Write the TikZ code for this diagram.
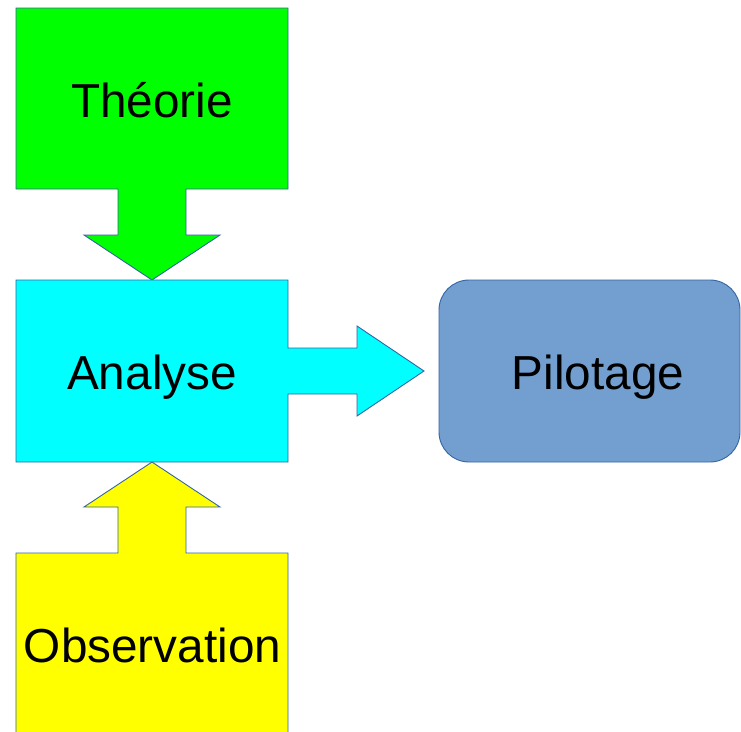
\documentclass[tikz,border=0pt]{standalone}
\usepackage{fontspec}
\setmainfont{Liberation Sans}
\usepackage{xcolor}
\definecolor{edgeblue}{HTML}{3465A4}
\definecolor{pilotblue}{HTML}{729FCF}
\definecolor{theogreen}{HTML}{00FF00}
\definecolor{anacyan}{HTML}{00FFFF}
\definecolor{obsyellow}{HTML}{FFFF00}
\tikzset{
  block/.style = {draw = edgeblue, line width = 0.9pt, line join = miter},
  lbl/.style = {anchor = base, inner sep = 0pt, font = \fontsize{47.7}{50}\selectfont}
}

\begin{document}
\begin{tikzpicture}[x = 1pt, y = -1pt]
	\clip (0,0) rectangle (741,731);
	\fill[white] (0,0) rectangle (741,731);
	% theorie with down arrow
	\draw[block, fill = theogreen] (16,8) -- (288,8) -- (288,189) -- (186,189) -- (186,235) -- (220,235) -- (152,280) -- (84,235) -- (118,235) -- (118,189) -- (16,189) -- cycle;
	% analyse with right arrow
	\draw[block, fill = anacyan] (16,280) -- (288,280) -- (288,348) -- (357,348) -- (357,326) -- (424,371) -- (357,416) -- (357,394) -- (288,394) -- (288,462) -- (16,462) -- cycle;
	% observation with up arrow
	\draw[block, fill = obsyellow] (16,760) -- (16,553) -- (118,553) -- (118,507) -- (84,507) -- (152,462) -- (220,507) -- (186,507) -- (186,553) -- (288,553) -- (288,760);
	% pilotage
	\draw[block, fill = pilotblue, rounded corners = 30pt] (439,280) rectangle (740,462);
	\node[lbl] (theorie) at (152,117) {Théorie};
	\node[lbl] (analyse) at (152,389) {Analyse};
	\node[lbl] (pilotage) at (598,389) {Pilotage};
	\node[lbl] (observation) at (152.5,662) {Observation};
\end{tikzpicture}
\end{document}
